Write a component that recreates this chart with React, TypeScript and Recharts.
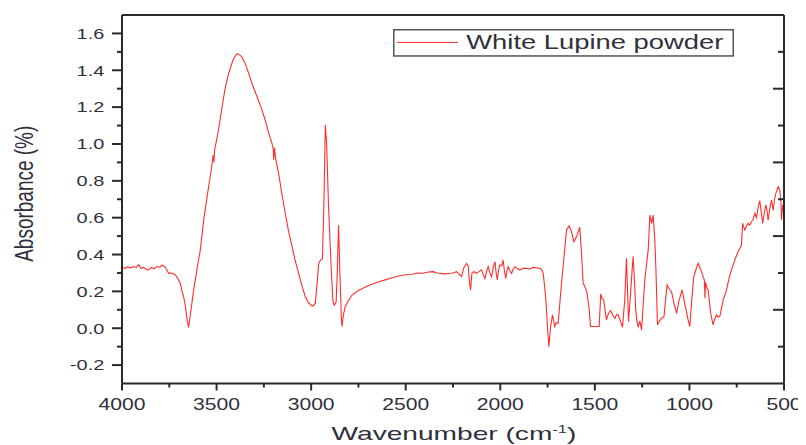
import React from 'react';
import { LineChart, Line, XAxis, YAxis, Legend } from 'recharts';

const seriesName = 'White Lupine powder';

const wavenumbers = [
  4000, 3985, 3970, 3955, 3940, 3925, 3912, 3900, 3885, 3870,
  3859, 3845, 3830, 3815, 3800, 3789, 3775, 3762, 3753, 3740,
  3728, 3718, 3705, 3692, 3683, 3674, 3665, 3655, 3648, 3640,
  3630, 3621, 3605, 3586, 3568, 3555, 3542, 3528, 3518, 3514,
  3510, 3500, 3490, 3471, 3455, 3436, 3415, 3400, 3392, 3380,
  3366, 3350, 3330, 3310, 3286, 3265, 3243, 3225, 3207, 3200,
  3198, 3194, 3188, 3172, 3155, 3137, 3120, 3101, 3085, 3066,
  3050, 3031, 3015, 3000, 2990, 2978, 2968, 2960, 2950, 2940,
  2932, 2925, 2918, 2908, 2895, 2885, 2878, 2868, 2862, 2855,
  2848, 2840, 2837, 2830, 2820, 2800, 2784, 2750, 2700, 2650,
  2600, 2560, 2530, 2500, 2470, 2440, 2410, 2380, 2354, 2335,
  2319, 2300, 2266, 2250, 2231, 2218, 2205, 2192, 2178, 2170,
  2163, 2157, 2150, 2140, 2125, 2110, 2099, 2090, 2081, 2072,
  2064, 2055, 2046, 2037, 2028, 2022, 2016, 2008, 2002, 1992,
  1985, 1978, 1971, 1965, 1958, 1948, 1940, 1932, 1923, 1910,
  1897, 1880, 1861, 1845, 1826, 1810, 1791, 1780, 1773, 1765,
  1759, 1750, 1743, 1735, 1724, 1718, 1712, 1705, 1694, 1680,
  1668, 1650, 1636, 1625, 1611, 1595, 1580, 1570, 1562, 1550,
  1541, 1530, 1523, 1477, 1469, 1461, 1453, 1445, 1439, 1428,
  1417, 1405, 1394, 1385, 1377, 1365, 1354, 1342, 1333, 1327,
  1322, 1310, 1298, 1290, 1284, 1278, 1271, 1262, 1253, 1236,
  1218, 1209, 1200, 1192, 1184, 1177, 1169, 1158, 1148, 1135,
  1118, 1105, 1095, 1080, 1068, 1055, 1039, 1028, 1019, 1008,
  998, 988, 977, 965, 954, 945, 936, 928, 921, 918,
  915, 908, 901, 888, 875, 866, 857, 848, 839, 830,
  822, 812, 804, 795, 786, 773, 760, 745, 733, 725,
  719, 713, 707, 698, 690, 681, 672, 663, 654, 645,
  636, 628, 620, 613, 605, 596, 590, 584, 575, 566,
  557, 550, 543, 531, 522, 516, 513, 507, 500,
];

const absorbance = [
  0.33, 0.325, 0.333, 0.328, 0.335, 0.33, 0.345, 0.325, 0.33, 0.318,
  0.316, 0.33, 0.322, 0.335, 0.33, 0.342, 0.335, 0.315, 0.298, 0.3,
  0.296, 0.289, 0.27, 0.244, 0.2, 0.171, 0.12, 0.04, 0.005, 0.06,
  0.14, 0.208, 0.31, 0.425, 0.587, 0.68, 0.768, 0.86, 0.94, 0.9,
  0.97, 1.02, 1.075, 1.202, 1.3, 1.383, 1.45, 1.48, 1.49, 1.485,
  1.473, 1.44, 1.383, 1.32, 1.256, 1.2, 1.13, 1.06, 1.003, 0.97,
  0.915, 0.98, 0.92, 0.84, 0.73, 0.624, 0.53, 0.443, 0.37, 0.298,
  0.235, 0.171, 0.14, 0.125, 0.12, 0.136, 0.25, 0.352, 0.37, 0.38,
  0.7, 1.103, 1.0, 0.66, 0.35, 0.15, 0.125, 0.14, 0.3, 0.56,
  0.3, 0.05, 0.009, 0.07, 0.117, 0.155, 0.18, 0.205, 0.23, 0.25,
  0.265, 0.278, 0.285, 0.29, 0.292, 0.3, 0.298, 0.305, 0.307, 0.3,
  0.298, 0.295, 0.298, 0.3, 0.307, 0.295, 0.28, 0.33, 0.352, 0.34,
  0.25, 0.208, 0.3, 0.307, 0.298, 0.31, 0.316, 0.29, 0.27, 0.31,
  0.334, 0.3, 0.28, 0.33, 0.361, 0.3, 0.262, 0.32, 0.343, 0.34,
  0.37, 0.31, 0.27, 0.31, 0.334, 0.31, 0.298, 0.32, 0.334, 0.325,
  0.316, 0.325, 0.325, 0.32, 0.33, 0.328, 0.325, 0.315, 0.298, 0.22,
  0.153, 0.0, -0.1, 0.0, 0.072, 0.04, 0.009, 0.03, 0.027, 0.2,
  0.334, 0.533, 0.555, 0.53, 0.47, 0.5, 0.548, 0.4, 0.244, 0.22,
  0.19, 0.1, 0.009, 0.009, 0.186, 0.16, 0.153, 0.09, 0.045, 0.08,
  0.096, 0.07, 0.054, 0.075, 0.072, 0.04, 0.005, 0.153, 0.38, 0.2,
  0.036, 0.208, 0.389, 0.25, 0.1, 0.04, 0.009, 0.04, -0.01, 0.262,
  0.425, 0.614, 0.569, 0.614, 0.5, 0.316, 0.018, 0.04, 0.054, 0.06,
  0.235, 0.21, 0.199, 0.13, 0.081, 0.15, 0.208, 0.15, 0.108, 0.05,
  0.009, 0.15, 0.28, 0.32, 0.352, 0.33, 0.307, 0.28, 0.262, 0.163,
  0.25, 0.22, 0.208, 0.083, 0.018, 0.05, 0.072, 0.06, 0.065, 0.11,
  0.153, 0.18, 0.208, 0.25, 0.289, 0.33, 0.37, 0.41, 0.434, 0.45,
  0.569, 0.55, 0.533, 0.555, 0.569, 0.56, 0.578, 0.59, 0.624, 0.6,
  0.66, 0.692, 0.63, 0.569, 0.62, 0.669, 0.64, 0.587, 0.65, 0.696,
  0.64, 0.7, 0.732, 0.768, 0.75, 0.68, 0.587, 0.67, 0.62,
];

const xMajorTicks = [4000, 3500, 3000, 2500, 2000, 1500, 1000, 500];
const xMinorTicks = [3750, 3250, 2750, 2250, 1750, 1250, 750];
const yMajorTicks = [-0.2, 0, 0.2, 0.4, 0.6, 0.8, 1.0, 1.2, 1.4, 1.6];
const yMinorTicks = [-0.1, 0.1, 0.3, 0.5, 0.7, 0.9, 1.1, 1.3, 1.5];
const topMajorTicks = [3300, 2600, 1900, 1200];
const topMinorTicks = [3650, 2950, 2250, 1550, 850];
const rightMajorTicks = [1.3, 0.9, 0.5, 0.1];
const rightMinorTicks = [1.5, 1.1, 0.7, 0.3, -0.1];

const table = wavenumbers.map((w, i) => ({ w, v: absorbance[i] }));

const AXIS = '#2a2a2a';
const TEXT = '#30303c';
const RED = '#ff2d2d';
const FONT = '"Liberation Sans", Arial, sans-serif';

const BottomTick = (props: any) => {
  const { x, y, payload } = props;
  const major = xMajorTicks.includes(payload.value);
  return (
    <g>
      <line x1={x} x2={x} y1={y} y2={y + (major ? 7 : 4)} stroke={AXIS} strokeWidth={2} />
      {major && (
        <text
          transform={`translate(${x},${y + 26.8}) scale(1.32,1)`}
          textAnchor="middle"
          fontSize={16}
          fontFamily={FONT}
          fill={TEXT}
        >
          {String(payload.value)}
        </text>
      )}
    </g>
  );
};

const LeftTick = (props: any) => {
  const { x, y, payload } = props;
  const major = yMajorTicks.includes(payload.value);
  return (
    <g>
      <line x1={x - (major ? 10 : 5)} x2={x} y1={y} y2={y} stroke={AXIS} strokeWidth={2} />
      {major && (
        <text
          transform={`translate(${x - 17.7},${y + 5.3}) scale(1.33,1)`}
          textAnchor="end"
          fontSize={15}
          fontFamily={FONT}
          fill={TEXT}
        >
          {Number(payload.value).toFixed(1)}
        </text>
      )}
    </g>
  );
};

const TopTick = (props: any) => {
  const { x, y, payload } = props;
  const major = topMajorTicks.includes(payload.value);
  return <line x1={x} x2={x} y1={y} y2={y + (major ? 6 : 3.5)} stroke={AXIS} strokeWidth={2} />;
};

const RightTick = (props: any) => {
  const { x, y, payload } = props;
  const major = rightMajorTicks.includes(payload.value);
  return <line x1={x - (major ? 11 : 6)} x2={x} y1={y} y2={y} stroke={AXIS} strokeWidth={2} />;
};

const XTitle = (props: any) => {
  const vb = props.viewBox || { x: 114, y: 375.5, width: 662, height: 60 };
  const cx = vb.x + vb.width / 2 + 1;
  return (
    <text
      x={cx}
      y={vb.y + 56.5}
      textAnchor="middle"
      fontSize={18.6}
      fontFamily={FONT}
      fill={TEXT}
      textLength={245}
      lengthAdjust="spacingAndGlyphs"
    >
      Wavenumber (cm
      <tspan dy={-7} fontSize={11}>-1</tspan>
      <tspan dy={7}>)</tspan>
    </text>
  );
};

const YTitle = (props: any) => {
  const vb = props.viewBox || { x: 14, y: 7, width: 100, height: 368.5 };
  const bx = vb.x + 11.3;
  const cy = vb.y + vb.height / 2 - 5.5;
  return (
    <text
      transform={`translate(${bx},${cy}) scale(1.35,1) rotate(-90)`}
      textAnchor="middle"
      fontSize={19}
      fontFamily={FONT}
      fill={TEXT}
    >
      Absorbance (%)
    </text>
  );
};

const LegendBox = (props: any) => {
  const item = props.payload && props.payload[0];
  const name = (item && item.value) || seriesName;
  const color = (item && item.color) || RED;
  return (
    <svg width={341} height={28} style={{ display: 'block' }}>
      <rect x={0.75} y={0.75} width={339.5} height={26.2} fill="#fff" stroke="#555" strokeWidth={1.5} />
      <line x1={4} x2={65} y1={13.4} y2={13.4} stroke={color} strokeWidth={1} />
      <text
        x={73.3}
        y={20}
        fontSize={19.5}
        fontFamily={FONT}
        fill={TEXT}
        textLength={257}
        lengthAdjust="spacingAndGlyphs"
      >
        {name}
      </text>
    </svg>
  );
};

export default function App() {
  return (
    <LineChart
      width={798}
      height={437}
      data={table}
      margin={{ top: 2, right: 12, bottom: 1.5, left: 14 }}
    >
      <XAxis
        xAxisId="b"
        dataKey="w"
        type="number"
        domain={[500, 4000]}
        reversed
        allowDataOverflow
        orientation="bottom"
        height={60}
        ticks={[...xMajorTicks, ...xMinorTicks]}
        interval={0}
        tickSize={0}
        tickMargin={0}
        tickLine={false}
        tick={<BottomTick />}
        axisLine={{ stroke: AXIS, strokeWidth: 2 }}
        label={<XTitle />}
      />
      <XAxis
        xAxisId="t"
        type="number"
        domain={[500, 4000]}
        reversed
        allowDataOverflow
        orientation="top"
        height={5}
        ticks={[...topMajorTicks, ...topMinorTicks]}
        interval={0}
        tickSize={0}
        tickMargin={0}
        tickLine={false}
        tick={<TopTick />}
        axisLine={{ stroke: AXIS, strokeWidth: 2 }}
      />
      <YAxis
        yAxisId="l"
        type="number"
        domain={[-0.3, 1.7]}
        allowDataOverflow
        orientation="left"
        width={100}
        ticks={[...yMajorTicks, ...yMinorTicks]}
        interval={0}
        tickSize={0}
        tickMargin={0}
        tickLine={false}
        tick={<LeftTick />}
        axisLine={{ stroke: AXIS, strokeWidth: 2 }}
        label={<YTitle />}
      />
      <YAxis
        yAxisId="r"
        type="number"
        domain={[-0.3, 1.7]}
        allowDataOverflow
        orientation="right"
        width={10}
        ticks={[...rightMajorTicks, ...rightMinorTicks]}
        interval={0}
        tickSize={0}
        tickMargin={0}
        tickLine={false}
        tick={<RightTick />}
        axisLine={{ stroke: AXIS, strokeWidth: 2 }}
      />
      <Legend
        layout="vertical"
        align="center"
        verticalAlign="middle"
        content={<LegendBox />}
        wrapperStyle={{ position: 'absolute', left: 384.7, top: 21.3, width: 341, height: 28 }}
      />
      <Line
        xAxisId="b"
        yAxisId="l"
        type="linear"
        dataKey="v"
        name={seriesName}
        stroke={RED}
        strokeWidth={1.1}
        dot={false}
        activeDot={false}
        isAnimationActive={false}
      />
    </LineChart>
  );
}
